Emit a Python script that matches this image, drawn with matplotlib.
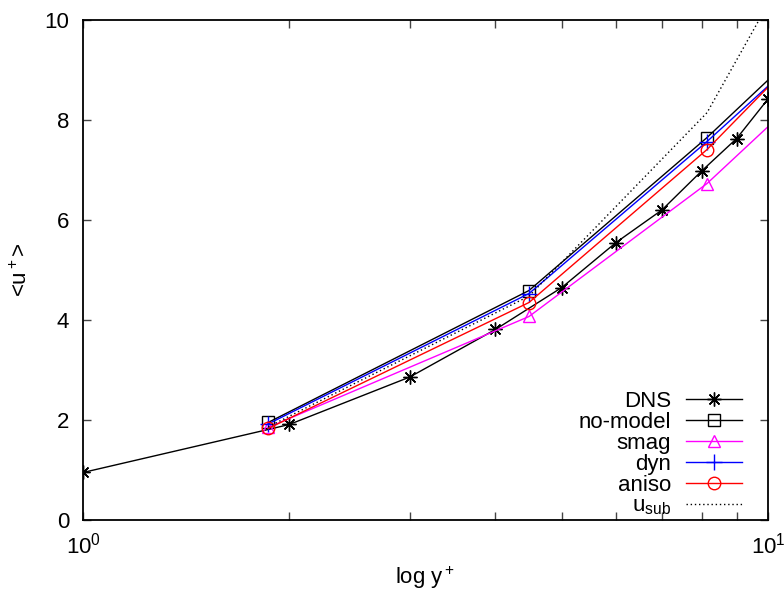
import numpy as np
import matplotlib
matplotlib.use("Agg")
import matplotlib.pyplot as plt

plt.rcParams["font.family"] = ["Liberation Sans", "DejaVu Sans"]
plt.rcParams["mathtext.fontset"] = "custom"
plt.rcParams["mathtext.rm"] = "Liberation Sans"
plt.rcParams["mathtext.it"] = "Liberation Sans"
plt.rcParams["font.size"] = 16


# DNS profile
dns_y = [1.0, 1.863, 2.0, 3.0, 4.0, 5.0, 6.0, 7.0, 8.0, 9.0, 10.0]
dns_u = [0.95, 1.81, 1.91, 2.86, 3.81, 4.65, 5.55, 6.20, 6.98, 7.63, 8.42]

# LES grid points (last one lies beyond the plotted range)
les_y = [1.863, 4.478, 8.147, 13.5]
nomodel_u = [1.95, 4.59, 7.65, 10.48]
smag_u = [1.85, 4.07, 6.73, 9.53]
dyn_u = [1.92, 4.53, 7.57, 10.30]
aniso_u = [1.83, 4.35, 7.41, 10.48]
usub_u = [1.863, 4.478, 8.147, 13.5]

fig = plt.figure(figsize=(7.84, 5.94), dpi=100)
ax = fig.add_axes([0.1059, 0.1246, 0.8737, 0.8417])

star = (8, 2, 0)
ax.plot(dns_y, dns_u, color="black", lw=1, marker=star, ms=10, mew=1,
        markevery=[0, 2, 3, 4, 5, 6, 7, 8, 9, 10], label="DNS")
ax.plot(les_y, nomodel_u, color="black", lw=1, marker="s", ms=9, mfc="none",
        mec="black", mew=1, label="no-model")
ax.plot(les_y, smag_u, color="#ff00ff", lw=1, marker="^", ms=9, mfc="none",
        mew=1, label="smag")
ax.plot(les_y, dyn_u, color="#0000ff", lw=1, marker="+", ms=11, mew=1,
        label="dyn")
ax.plot(les_y, aniso_u, color="#ff0000", lw=1, marker="o", ms=9, mfc="none",
        mew=1, label="aniso")
ax.plot(les_y, usub_u, color="black", lw=1, ls=(0, (1, 2)),
        label=r"u$_{\mathrm{sub}}$")

ax.set_xscale("log")
ax.set_xlim(1, 10)
ax.set_ylim(0, 10)
ax.set_yticks([0, 2, 4, 6, 8, 10])
ax.set_xticks([1, 10])
ax.set_xticklabels([r"$\mathdefault{10^{0}}$", r"$\mathdefault{10^{1}}$"])
ax.set_xticks(np.arange(2, 10), minor=True)
ax.xaxis.set_minor_formatter(matplotlib.ticker.NullFormatter())

ax.tick_params(which="both", direction="in", top=True, right=True,
               length=6, width=1, color="#444444")
ax.tick_params(axis="y", pad=10)
ax.tick_params(axis="x", pad=9)
for s in ax.spines.values():
    s.set_linewidth(1.3)

ax.set_xlabel(r"log y$^+$")
ax.xaxis.set_label_coords(0.5, -0.09)
ax.set_ylabel(r"<u$^+$>")
ax.yaxis.set_label_coords(-0.075, 0.5)

ax.legend(loc="lower right", bbox_to_anchor=(0.962, 0.005), frameon=False,
          markerfirst=False, handlelength=2.5, handletextpad=0.68,
          labelspacing=0.0, borderaxespad=0, borderpad=0, fontsize=16)

fig.savefig("out.png", dpi=100)
